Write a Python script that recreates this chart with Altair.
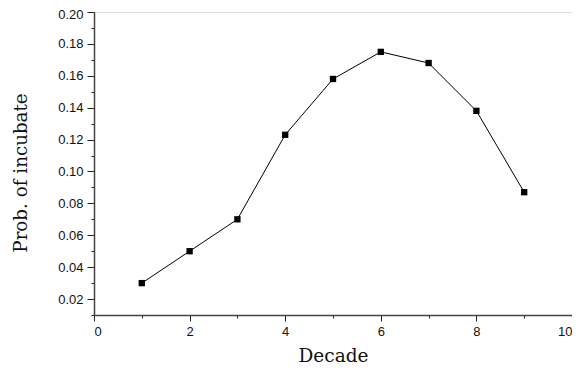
import altair as alt
import pandas as pd

decade = [1, 2, 3, 4, 5, 6, 7, 8, 9]
prob = [0.030, 0.050, 0.070, 0.123, 0.158, 0.175, 0.168, 0.138, 0.087]
x_ticks = list(range(0, 11))
y_ticks = [round(0.01 * i, 2) for i in range(1, 21)]

df = pd.DataFrame({"Decade": decade, "Prob": prob})

label_font = "Liberation Sans"
title_font = "DejaVu Serif"

x_enc = alt.X(
    "Decade:Q",
    scale=alt.Scale(domain=[0, 10], nice=False, zero=False),
    axis=alt.Axis(
        title="Decade",
        values=x_ticks,
        labelExpr="datum.value % 2 == 0 ? datum.label : ''",
        tickSize={"condition": {"test": "datum.value % 2 == 0", "value": 6}, "value": 3},
        labelPadding=4,
        labelFlush=True,
        labelOverlap=False,
        labelFont=label_font,
        labelFontSize=13,
        labelColor="#111",
        titleFont=title_font,
        titleFontSize=18.5,
        titleFontWeight="normal",
        titleColor="#111",
        titleY=46,
        titleBaseline="alphabetic",
        grid=False,
        domainColor="#444",
        domainWidth=1.5,
        tickColor="#222",
        tickWidth=1,
    ),
)

y_enc = alt.Y(
    "Prob:Q",
    scale=alt.Scale(domain=[0.01, 0.20], nice=False, zero=False),
    axis=alt.Axis(
        title="Prob. of incubate",
        values=y_ticks,
        labelExpr="round(datum.value * 100) % 2 == 0 ? format(datum.value, '.2f') : ''",
        tickSize={"condition": {"test": "round(datum.value * 100) % 2 == 0", "value": 7}, "value": 3},
        labelOffset={"condition": {"test": "datum.value > 0.195", "value": 2.5}, "value": 0},
        labelPadding=4,
        labelFlush=False,
        labelOverlap=False,
        labelFont=label_font,
        labelFontSize=13,
        labelColor="#111",
        titleFont=title_font,
        titleFontSize=18.3,
        titleFontWeight="normal",
        titleColor="#111",
        titleX=-68,
        titleY=160.5,
        titleAlign="center",
        titleBaseline="alphabetic",
        grid=False,
        domainColor="#444",
        domainWidth=1.5,
        tickColor="#222",
        tickWidth=1,
    ),
)

base = alt.Chart(df).encode(x=x_enc, y=y_enc)
line = base.mark_line(color="black", strokeWidth=1)
pts = base.mark_point(shape="square", filled=True, size=40, color="black", opacity=1)

chart = (
    (line + pts)
    .properties(
        width=478,
        height=303,
        autosize=alt.AutoSizeParams(type="none"),
        padding={"left": 86, "top": 4, "right": 0, "bottom": 50},
    )
    .configure_view(stroke=None)
    .configure(background="white")
)

chart.save("out.html", embed_options={"renderer": "svg", "actions": False})
